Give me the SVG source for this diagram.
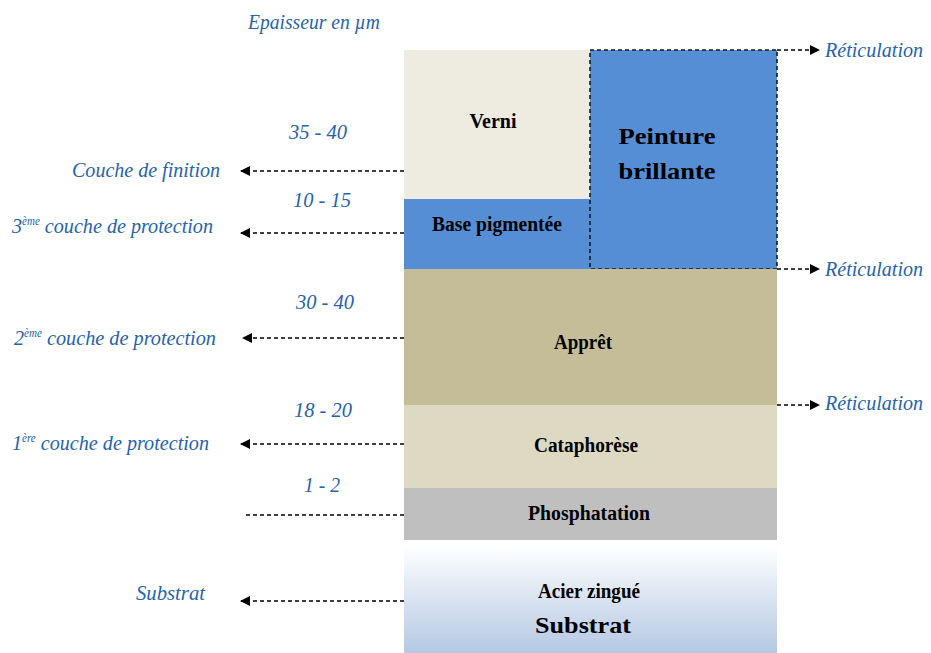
<svg xmlns="http://www.w3.org/2000/svg" width="931" height="653" viewBox="0 0 931 653">
<style>
.lbl{font-family:"Liberation Serif",serif;font-style:italic;fill:#2563AD;font-size:22px}
.num{font-family:"Liberation Serif",serif;font-style:italic;fill:#2563AD;font-size:22px;text-anchor:middle}
.sup{font-size:12px}
.node{font-family:"Liberation Serif",serif;font-weight:bold;fill:#000;font-size:20px;text-anchor:middle}
.big{font-size:24px}
.dash{stroke:#000;stroke-width:1.6;stroke-dasharray:4 3;fill:none}
</style>
<defs>
<marker id="ah" markerWidth="10" markerHeight="10" refX="9" refY="5" orient="auto" markerUnits="userSpaceOnUse">
<path d="M0,0 L10,5 L0,10 z" fill="#000"/>
</marker>
<linearGradient id="sub" x1="0" y1="0" x2="0" y2="1">
<stop offset="0" stop-color="#FFFFFF"/>
<stop offset="1" stop-color="#B4C8E3"/>
</linearGradient>
</defs>
<rect width="931" height="653" fill="#fff"/>
<g id="verni"><rect x="404" y="50" width="186" height="149" fill="#EEEBE1"/><text class="node" x="493" y="128" textLength="47" lengthAdjust="spacingAndGlyphs">Verni</text></g>
<g id="base"><rect x="404" y="199" width="186" height="70" fill="#558ED5"/><text class="node" x="497" y="231" textLength="130" lengthAdjust="spacingAndGlyphs">Base pigmentée</text></g>
<g id="peinture"><rect x="590" y="50" width="187" height="219" fill="#558ED5" stroke="#1a1a1a" stroke-width="1.6" stroke-dasharray="4 3"/><text class="node big" x="667" y="144" textLength="97" lengthAdjust="spacingAndGlyphs">Peinture</text><text class="node big" x="667" y="179" textLength="97" lengthAdjust="spacingAndGlyphs">brillante</text></g>
<g id="appret"><rect x="404" y="269" width="373" height="136" fill="#C4BD97"/><text class="node" x="583" y="349" textLength="58" lengthAdjust="spacingAndGlyphs">Apprêt</text></g>
<g id="cataphorese"><rect x="404" y="405" width="373" height="83" fill="#DDD9C3"/><text class="node" x="586" y="452" textLength="104" lengthAdjust="spacingAndGlyphs">Cataphorèse</text></g>
<g id="phosphatation"><rect x="404" y="488" width="373" height="52" fill="#BFBFBF"/><text class="node" x="589" y="520" textLength="122" lengthAdjust="spacingAndGlyphs">Phosphatation</text></g>
<g id="substrat"><rect x="404" y="545" width="373" height="108" fill="url(#sub)"/><text class="node" x="589" y="598" textLength="102" lengthAdjust="spacingAndGlyphs">Acier zingué</text><text class="node big" x="583" y="633" textLength="96" lengthAdjust="spacingAndGlyphs">Substrat</text></g>
<g id="connectors">
<line class="dash" x1="404" y1="171" x2="241" y2="171" marker-end="url(#ah)"/>
<line class="dash" x1="404" y1="233" x2="241" y2="233" marker-end="url(#ah)"/>
<line class="dash" x1="404" y1="338" x2="243" y2="338" marker-end="url(#ah)"/>
<line class="dash" x1="404" y1="444" x2="241" y2="444" marker-end="url(#ah)"/>
<line class="dash" x1="404" y1="515" x2="245" y2="515"/>
<line class="dash" x1="404" y1="601" x2="241" y2="601" marker-end="url(#ah)"/>
<line class="dash" x1="777" y1="50" x2="819" y2="50" marker-end="url(#ah)"/>
<line class="dash" x1="777" y1="269" x2="819" y2="269" marker-end="url(#ah)"/>
<line class="dash" x1="777" y1="405" x2="819" y2="405" marker-end="url(#ah)"/>
</g>
<g id="labels">
<text class="lbl" x="248" y="29" textLength="132" lengthAdjust="spacingAndGlyphs">Epaisseur en µm</text>
<text class="num" x="318" y="139" textLength="58" lengthAdjust="spacingAndGlyphs">35 - 40</text>
<text class="num" x="322" y="207" textLength="58" lengthAdjust="spacingAndGlyphs">10 - 15</text>
<text class="num" x="325" y="309" textLength="58" lengthAdjust="spacingAndGlyphs">30 - 40</text>
<text class="num" x="323" y="417" textLength="58" lengthAdjust="spacingAndGlyphs">18 - 20</text>
<text class="num" x="322" y="492" textLength="36" lengthAdjust="spacingAndGlyphs">1 - 2</text>
<text class="lbl" x="72" y="177" textLength="148" lengthAdjust="spacingAndGlyphs">Couche de finition</text>
<text class="lbl" x="12" y="233" textLength="201" lengthAdjust="spacingAndGlyphs">3<tspan class="sup" dy="-8">ème</tspan><tspan dy="8"> couche de protection</tspan></text>
<text class="lbl" x="14" y="345" textLength="202" lengthAdjust="spacingAndGlyphs">2<tspan class="sup" dy="-8">ème</tspan><tspan dy="8"> couche de protection</tspan></text>
<text class="lbl" x="12" y="450" textLength="197" lengthAdjust="spacingAndGlyphs">1<tspan class="sup" dy="-8">ère</tspan><tspan dy="8"> couche de protection</tspan></text>
<text class="lbl" x="136" y="600" textLength="69" lengthAdjust="spacingAndGlyphs">Substrat</text>
<text class="lbl" x="825" y="57" textLength="98" lengthAdjust="spacingAndGlyphs">Réticulation</text>
<text class="lbl" x="825" y="276" textLength="98" lengthAdjust="spacingAndGlyphs">Réticulation</text>
<text class="lbl" x="825" y="410" textLength="98" lengthAdjust="spacingAndGlyphs">Réticulation</text>
</g>
</svg>
